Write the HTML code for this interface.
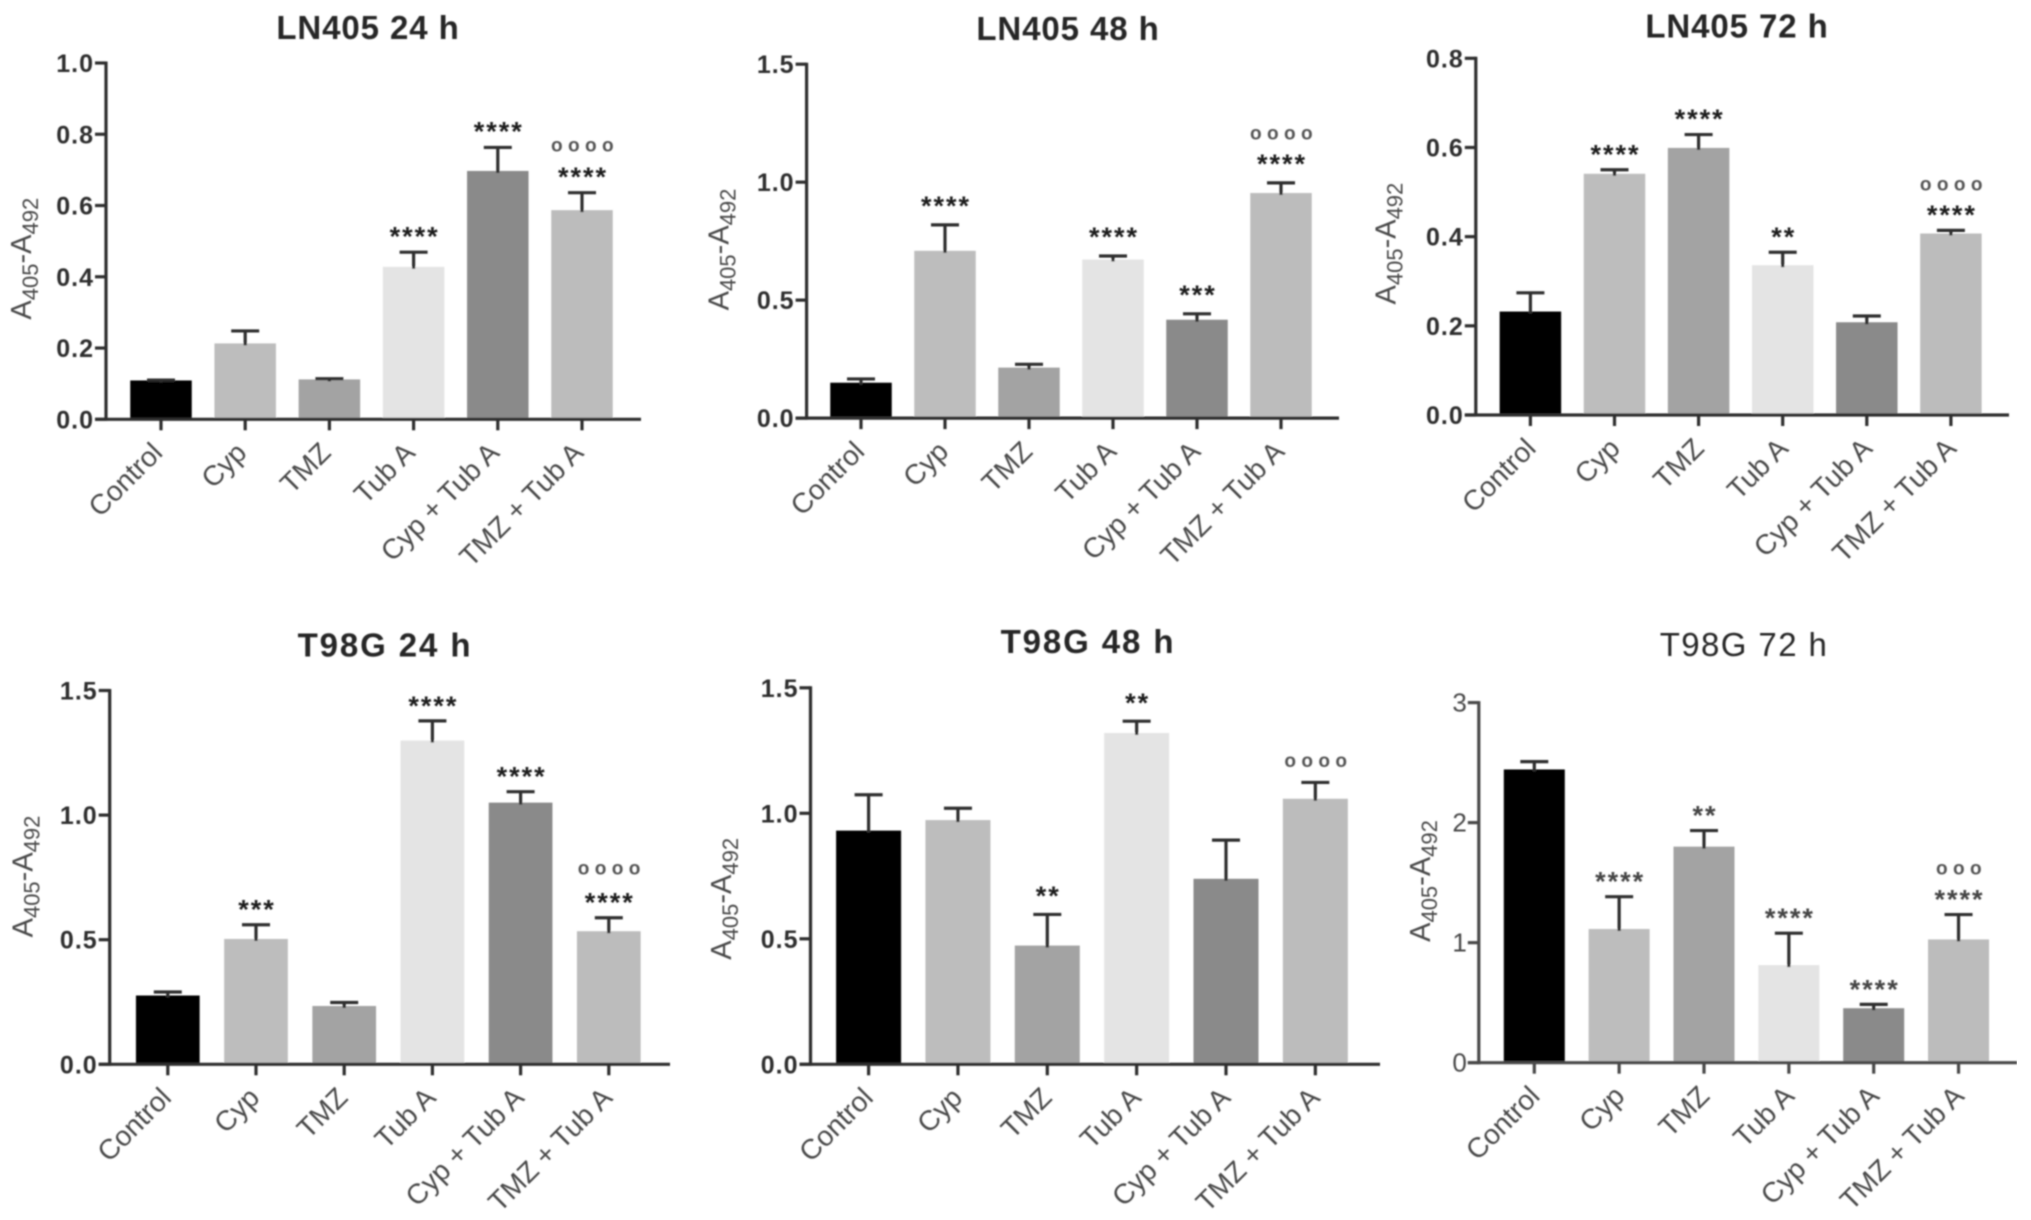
<!DOCTYPE html>
<html lang="en">
<head>
<meta charset="utf-8">
<title>LN405 and T98G bar charts</title>
<style>
html,body{margin:0;padding:0;background:#fff;}
svg{display:block;}
text{font-family:"Liberation Sans",Arial,sans-serif;}
</style>
</head>
<body>
<svg id="figure" xmlns="http://www.w3.org/2000/svg" width="2031" height="1220" viewBox="0 0 2031 1220">
<defs><filter id="soft" x="0" y="0" width="100%" height="100%"><feGaussianBlur stdDeviation="0.75"/></filter></defs>
<rect x="0" y="0" width="2031" height="1220" fill="#fff"/>
<g id="root" filter="url(#soft)"></g>
</svg>
<script>
const categories = ["Control", "Cyp", "TMZ", "Tub A", "Cyp + Tub A", "TMZ + Tub A"];

const ln405h24Means = [0.109, 0.213, 0.112, 0.428, 0.697, 0.587];
const ln405h24Errors = [0.001, 0.035, 0.002, 0.041, 0.066, 0.049];
const ln405h24Stars = ["", "", "", "****", "****", "****"];
const ln405h24Rings = ["", "", "", "", "", "oooo"];
const ln405h24Ticks = ["0.0", "0.2", "0.4", "0.6", "0.8", "1.0"];

const ln405h48Means = [0.15, 0.709, 0.214, 0.672, 0.417, 0.954];
const ln405h48Errors = [0.016, 0.11, 0.014, 0.015, 0.025, 0.043];
const ln405h48Stars = ["", "****", "", "****", "***", "****"];
const ln405h48Rings = ["", "", "", "", "", "oooo"];
const ln405h48Ticks = ["0.0", "0.5", "1.0", "1.5"];

const ln405h72Means = [0.232, 0.541, 0.599, 0.336, 0.208, 0.407];
const ln405h72Errors = [0.042, 0.009, 0.03, 0.029, 0.014, 0.007];
const ln405h72Stars = ["", "****", "****", "**", "", "****"];
const ln405h72Rings = ["", "", "", "", "", "oooo"];
const ln405h72Ticks = ["0.0", "0.2", "0.4", "0.6", "0.8"];

const t98gh24Means = [0.276, 0.503, 0.234, 1.299, 1.05, 0.534];
const t98gh24Errors = [0.014, 0.057, 0.014, 0.079, 0.044, 0.054];
const t98gh24Stars = ["", "***", "", "****", "****", "****"];
const t98gh24Rings = ["", "", "", "", "", "oooo"];
const t98gh24Ticks = ["0.0", "0.5", "1.0", "1.5"];

const t98gh48Means = [0.931, 0.973, 0.473, 1.32, 0.739, 1.058];
const t98gh48Errors = [0.143, 0.047, 0.124, 0.047, 0.154, 0.065];
const t98gh48Stars = ["", "", "**", "**", "", ""];
const t98gh48Rings = ["", "", "", "", "", "oooo"];
const t98gh48Ticks = ["0.0", "0.5", "1.0", "1.5"];

const t98gh72Means = [2.443, 1.114, 1.8, 0.813, 0.454, 1.027];
const t98gh72Errors = [0.065, 0.269, 0.134, 0.266, 0.032, 0.207];
const t98gh72Stars = ["", "****", "**", "****", "****", "****"];
const t98gh72Rings = ["", "", "", "", "", "ooo"];
const t98gh72Ticks = ["0", "1", "2", "3"];

const barColors = ["#000000", "#bdbdbd", "#a3a3a3", "#e4e4e4", "#8a8a8a", "#bcbcbc"];

const panels = [
  {slug:"ln405-24h", title:"LN405 24 h", means:ln405h24Means, errors:ln405h24Errors, stars:ln405h24Stars, rings:ln405h24Rings, ticks:ln405h24Ticks, max:1.0, axisX:106, top:63, base:419.3, end:641, first:161, step:84.2, barW:61.5, titleX:368, titleY:39, titleGap:0.9, labelDx:3, yLabelX:31, yLabelY:258.7, starGap:19.4, ringGap:27, weight:"bold", ink:"#2e2e2e"},
  {slug:"ln405-48h", title:"LN405 48 h", means:ln405h48Means, errors:ln405h48Errors, stars:ln405h48Stars, rings:ln405h48Rings, ticks:ln405h48Ticks, max:1.5, axisX:806.6, top:64.2, base:418.1, end:1339, first:861, step:84, barW:61.5, titleX:1068, titleY:40, titleGap:0.9, labelDx:5, yLabelX:728.6, yLabelY:249.5, starGap:22.5, ringGap:26, weight:"bold", ink:"#2e2e2e"},
  {slug:"ln405-72h", title:"LN405 72 h", means:ln405h72Means, errors:ln405h72Errors, stars:ln405h72Stars, rings:ln405h72Rings, ticks:ln405h72Ticks, max:0.8, axisX:1475.8, top:58.3, base:415, end:2009, first:1530.4, step:84.1, barW:61.5, titleX:1737, titleY:37.7, titleGap:0.9, labelDx:7, yLabelX:1395.5, yLabelY:243.6, starGap:19, ringGap:26, weight:"bold", ink:"#2e2e2e"},
  {slug:"t98g-24h", title:"T98G 24 h", means:t98gh24Means, errors:t98gh24Errors, stars:t98gh24Stars, rings:t98gh24Rings, ticks:t98gh24Ticks, max:1.5, axisX:109.7, top:690.5, base:1064.3, end:670, first:167.8, step:88.2, barW:63.7, titleX:385, titleY:656.7, titleGap:1.9, labelDx:5, yLabelX:32.5, yLabelY:876.5, starGap:18.8, ringGap:29.6, weight:"bold", ink:"#2e2e2e"},
  {slug:"t98g-48h", title:"T98G 48 h", means:t98gh48Means, errors:t98gh48Errors, stars:t98gh48Stars, rings:t98gh48Rings, ticks:t98gh48Ticks, max:1.5, axisX:810.5, top:687.8, base:1064.3, end:1380, first:868.6, step:89.35, barW:65, titleX:1088, titleY:652.8, titleGap:1.9, labelDx:6, yLabelX:731, yLabelY:898.8, starGap:22, ringGap:0, weight:"bold", ink:"#2e2e2e"},
  {slug:"t98g-72h", title:"T98G 72 h", means:t98gh72Means, errors:t98gh72Errors, stars:t98gh72Stars, rings:t98gh72Rings, ticks:t98gh72Ticks, max:3, axisX:1478.8, top:702.6, base:1062.7, end:2017, first:1534.3, step:84.85, barW:61, titleX:1744, titleY:656, titleGap:1.4, labelDx:7, yLabelX:1430, yLabelY:881, starGap:18.7, ringGap:26.4, weight:"normal", ink:"#4a4a4a"}
];

const SVG_NS = "http://www.w3.org/2000/svg";
const root = document.getElementById("root");

function make(parent, tag, attrs, content) {
  const node = document.createElementNS(SVG_NS, tag);
  Object.keys(attrs).forEach(function (key) { node.setAttribute(key, attrs[key]); });
  if (content !== undefined) node.textContent = content;
  parent.appendChild(node);
  return node;
}

panels.forEach(function (p) {
  const yScale = function (v) { return p.base - (v / p.max) * (p.base - p.top); };
  const xScale = function (i) { return p.first + i * p.step; };
  const isBold = p.weight === "bold";

  const group = make(root, "g", {});
  
  

  const title = make(group, "text", {x:p.titleX, y:p.titleY, "text-anchor":"middle", "font-size":33, "font-weight":isBold ? "bold" : "normal", "letter-spacing":p.titleGap, fill:"#262626"}, p.title);
  
  

  const yLabel = make(group, "text", {x:p.yLabelX, y:p.yLabelY, "font-size":29, fill:"#4a4a4a", "text-anchor":"middle", transform:"rotate(-90 " + p.yLabelX + " " + p.yLabelY + ")"});
  
  
  make(yLabel, "tspan", {}, "A");
  make(yLabel, "tspan", {"font-size":22, dy:7}, "405");
  make(yLabel, "tspan", {dy:-7}, "-A");
  make(yLabel, "tspan", {"font-size":22, dy:7}, "492");

  p.means.forEach(function (mean, i) {
    const cx = xScale(i);
    const yMean = yScale(mean);
    const yErr = yScale(mean + p.errors[i]);

    const bar = make(group, "rect", {x:cx - p.barW / 2, y:yMean, width:p.barW, height:p.base - yMean, fill:barColors[i]});
    
    

    const stem = make(group, "line", {x1:cx, x2:cx, y1:yErr, y2:yMean + 2, stroke:"#2e2e2e", "stroke-width":3.2});
    
    

    const cap = make(group, "line", {x1:cx - 14, x2:cx + 14, y1:yErr, y2:yErr, stroke:"#2e2e2e", "stroke-width":3.2});
    
    

    if (p.stars[i]) {
      const star = make(group, "text", {x:cx + 1, y:yErr - p.starGap + 12.7, "text-anchor":"middle", "font-size":27, "font-weight":"bold", "letter-spacing":2, fill:isBold ? "#1c1c1c" : "#444"}, p.stars[i]);
      
      
    }
    if (p.rings[i]) {
      const ringCenter = p.stars[i] ? yErr - p.starGap - p.ringGap : yErr - 20.6;
      const ring = make(group, "text", {x:cx + 3, y:ringCenter + 5, "text-anchor":"middle", "font-size":19, "font-weight":"bold", "letter-spacing":5.4, fill:"#555"}, p.rings[i]);
      
      
    }
  });

  const yAxis = make(group, "line", {x1:p.axisX, x2:p.axisX, y1:p.top - 1.5, y2:p.base + 1.5, stroke:p.ink, "stroke-width":3.2});
  
  

  const xAxis = make(group, "line", {x1:p.axisX - 11, x2:p.end, y1:p.base, y2:p.base, stroke:p.ink, "stroke-width":3.2});
  
  

  p.ticks.forEach(function (label) {
    const y = yScale(parseFloat(label));
    const tick = make(group, "line", {x1:p.axisX - 11, x2:p.axisX, y1:y, y2:y, stroke:p.ink, "stroke-width":3.2});
    
    
    const tickLabel = make(group, "text", {x:p.axisX - 12, y:y + 9, "text-anchor":"end", "font-size":isBold ? 25 : 26, "letter-spacing":isBold ? 1 : 0, "font-weight":isBold ? "bold" : "normal", fill:p.ink}, label);
    
    
  });

  categories.forEach(function (name, i) {
    const cx = xScale(i);
    const tick = make(group, "line", {x1:cx, x2:cx, y1:p.base, y2:p.base + 11, stroke:p.ink, "stroke-width":3.2});
    
    
    const lx = cx + p.labelDx;
    const ly = p.base + 35;
    const catLabel = make(group, "text", {x:lx, y:ly, "text-anchor":"end", "font-size":28, fill:"#4a4a4a", transform:"rotate(-45 " + lx + " " + ly + ")"}, name);
    
    
  });
});
</script>
</body>
</html>
